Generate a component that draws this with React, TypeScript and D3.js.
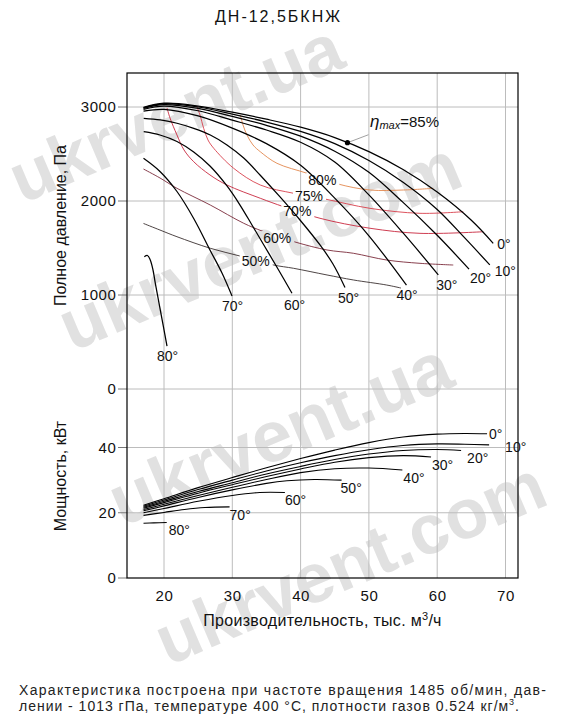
import React from 'react';
import * as d3 from 'd3';

// ---------------- data ----------------
const title = 'ДН-12,5БКНЖ';
const xTicks = [20, 30, 40, 50, 60, 70];
const pressureTicks = [0, 1000, 2000, 3000];
const powerTicks = [0, 20, 40];
const angleLabels = ['0°', '10°', '20°', '30°', '40°', '50°', '60°', '70°', '80°'];

// total pressure, Pa vs flow, thousand m3/h
const pressure0 = [[17.0, 2995], [20, 3040], [25, 3010], [30, 2945], [35, 2870], [40, 2785], [45, 2675], [50, 2525], [55, 2335], [60, 2095], [65, 1795], [68.2, 1550]];
const pressure10 = [[17.0, 2992], [20, 3035], [25, 3000], [30, 2925], [35, 2840], [40, 2740], [45, 2610], [50, 2430], [55, 2200], [60, 1910], [64, 1610], [67.7, 1320]];
const pressure20 = [[17.0, 2985], [20, 3025], [25, 2985], [30, 2900], [35, 2805], [40, 2690], [45, 2530], [50, 2305], [55, 1985], [60, 1635], [64.66, 1275]];
const pressure30 = [[17.0, 2975], [20, 3010], [25, 2960], [30, 2860], [35, 2755], [40, 2625], [45, 2415], [50, 2065], [55, 1660], [60.16, 1215]];
const pressure40 = [[17.0, 2955], [20, 2975], [25, 2905], [30, 2775], [35, 2610], [40, 2380], [45, 2030], [50, 1630], [55.5, 1105]];
const pressure50 = [[17.03, 2880], [19.46, 2862], [21.9, 2827], [24.35, 2773], [26.78, 2702], [29.22, 2596], [31.67, 2457], [34.06, 2277], [36.99, 2043], [39.91, 1798], [42.84, 1532], [44.74, 1330], [46.5, 1080]];
const pressure60 = [[17.03, 2737], [19.41, 2702], [21.9, 2633], [24.35, 2521], [26.73, 2372], [29.22, 2160], [31.13, 1957], [32.88, 1745], [34.79, 1511], [36.69, 1277], [38.74, 1018]];
const pressure70 = [[17.0, 2454], [19.41, 2314], [21.9, 2101], [24.39, 1809], [26.73, 1479], [28.49, 1234], [29.96, 989]];
const pressure80 = [[17.12, 1407], [17.58, 1420], [17.99, 1372], [18.39, 1266], [18.73, 1124], [19.46, 840], [20.44, 457]];

// shaft power, kW
const power0 = [[17.0, 22.3], [20, 24.3], [25, 27.7], [30, 30.8], [35, 33.8], [40, 36.6], [45, 39.2], [50, 41.5], [55, 43.2], [60, 44.1], [64, 44.3], [67.3, 44.2]];
const power10 = [[17.0, 22.0], [20, 23.9], [25, 27.1], [30, 30.0], [35, 32.8], [40, 35.3], [45, 37.5], [50, 39.3], [55, 40.6], [60, 41.1], [64, 41.0], [67.6, 40.8]];
const power20 = [[17.0, 21.7], [20, 23.5], [25, 26.5], [30, 29.2], [35, 31.9], [40, 34.2], [45, 36.3], [50, 38.0], [55, 39.1], [60, 39.4], [63.5, 39.1]];
const power30 = [[17.0, 21.4], [20, 23.1], [25, 26.0], [30, 28.6], [35, 31.1], [40, 33.4], [45, 35.5], [50, 36.9], [55, 37.5], [59.1, 37.1]];
const power40 = [[17.0, 21.0], [20, 22.6], [25, 25.3], [30, 27.8], [35, 30.2], [40, 32.3], [45, 33.5], [50, 33.7], [54.9, 33.1]];
const power50 = [[17.0, 20.6], [20, 22.1], [25, 24.7], [30, 27.0], [35, 29.0], [38, 29.8], [42, 30.2], [46.0, 30.0]];
const power60 = [[17.0, 20.0], [20, 21.3], [25, 23.5], [30, 25.3], [34, 26.2], [37.7, 26.2]];
const power70 = [[17.0, 19.2], [20, 20.1], [23, 21.0], [26, 21.6], [29.6, 21.8]];
const power80 = [[17.0, 16.8], [18.5, 16.9], [20.4, 17.0]];

// iso-efficiency curves
const eff80 = [[31.17, 2915], [31.57, 2809], [32.15, 2702], [33.03, 2596], [34.1, 2524], [36.54, 2401], [40.94, 2295], [45.48, 2181], [50.16, 2117], [55.04, 2117], [59.43, 2135]];
const eff75 = [[24.83, 3000], [25.27, 2915], [25.81, 2773], [26.44, 2649], [27.28, 2561], [30.2, 2348], [34.1, 2170], [38.99, 2082], [43.57, 2021], [50.16, 1922], [57.48, 1869], [63.82, 1886]];
const eff70 = [[20.44, 2990], [20.88, 2883], [21.9, 2702], [22.93, 2543], [24.35, 2418], [26.73, 2277], [29.22, 2170], [34.1, 2029], [37.52, 1939], [42.84, 1816], [50.16, 1710], [57.48, 1656], [66.75, 1673]];
const eff60 = [[17.0, 2340], [19.41, 2245], [21.9, 2135], [26.78, 1957], [31.67, 1763], [34.35, 1681], [39.18, 1564], [43.87, 1479], [47.72, 1444], [52.61, 1372], [57.48, 1337], [62.35, 1319]];
const eff50 = [[17.0, 1761], [19.41, 1691], [21.9, 1620], [26.78, 1497], [31.11, 1415], [36.05, 1319], [38.98, 1284], [43.87, 1213], [47.72, 1160], [52.61, 1106], [54.7, 1074]];
const effNames = ['80%', '75%', '70%', '60%', '50%'];
const effLabelAt = [[41.13, 2170], [39.18, 2000], [37.47, 1840], [34.54, 1553], [31.38, 1309]];

const etaMaxPoint = [46.86, 2620];
const etaMaxValue = '=85%';

const footer1 = 'Характеристика построена при частоте вращения 1485 об/мин, дав-';
const footer2a = 'лении - 1013 гПа, температуре 400 °С, плотности газов 0.524 кг/м';

const watermarkTexts = ['ukrvent.ua', 'ukrvent.com', 'ukrvent.ua', 'ukrvent.com'];

// ---------------- layout / style ----------------
const W = 561, H = 728;
const L = 127, R = 518, T = 73, B = 578;
const FONT = "Arial, 'Liberation Sans', sans-serif";
const watermarkPos = [[22, 204, 70], [72, 352, 72], [122, 527, 72], [168, 666, 70]];

const pressureSeries = [pressure0, pressure10, pressure20, pressure30, pressure40, pressure50, pressure60, pressure70, pressure80];
const powerSeries = [power0, power10, power20, power30, power40, power50, power60, power70, power80];
const effSeries = [eff80, eff75, eff70, eff60, eff50];
const effColors = ['#e2884e', '#d8404c', '#c8283e', '#7a2a3a', '#3a3030'];
const pressureLabelOffset = [[4, 6], [5, 11], [1, 14], [-2, 15], [-10, 15], [-7, 15.5], [-8, 17], [-10, 15], [-10, 15]];
const powerLabelOffset = [[2, 5], [16, 7], [6, 13], [1, 13], [1, 13], [-1, 13], [0, 12.5], [0, 13], [2, 12.5]];

export default function App() {
  const x = d3.scaleLinear().domain([20, 70]).range([164, 505.5]);
  const yP = d3.scaleLinear().domain([0, 3000]).range([389, 107]);
  const yN = d3.scaleLinear().domain([0, 40]).range([578, 447.5]);

  const lineP = d3.line<number[]>().x(d => x(d[0])).y(d => yP(d[1])).curve(d3.curveCatmullRom.alpha(0.5));
  const lineN = d3.line<number[]>().x(d => x(d[0])).y(d => yN(d[1])).curve(d3.curveCatmullRom.alpha(0.5));

  const effBoxes = effLabelAt.map(d => ({ x: x(d[0]), y: yP(d[1]) }));
  const dot = { x: x(etaMaxPoint[0]), y: yP(etaMaxPoint[1]) };

  return (
    <svg width={W} height={H} viewBox={`0 0 ${W} ${H}`}
      style={{ position: 'absolute', left: 0, top: 0, background: '#fff' }}
      fontFamily={FONT}>
      <defs>
        {effBoxes.map((b, i) => (
          <mask key={i} id={`effmask${i}`} maskUnits="userSpaceOnUse" x={0} y={0} width={W} height={H}>
            <rect x={0} y={0} width={W} height={H} fill="#fff" />
            <rect x={b.x - 2} y={b.y - 12} width={33} height={15} fill="#000" />
          </mask>
        ))}
      </defs>
      <rect x={0} y={0} width={W} height={H} fill="#fff" />

      {/* watermark */}
      <g fill="#e1e1e1" fontWeight="bold">
        {watermarkTexts.map((w, i) => (
          <text key={i} fontSize={watermarkPos[i][2]}
            transform={`translate(${watermarkPos[i][0]},${watermarkPos[i][1]}) rotate(-23)`}>{w}</text>
        ))}
      </g>

      {/* title */}
      <text x={215} y={22} fontSize={16} letterSpacing={2} fill="#111">{title}</text>

      {/* grid */}
      <g stroke="#bcbcbc" strokeWidth={1}>
        {xTicks.map(t => (
          <line key={`gx${t}`} x1={x(t)} x2={x(t)} y1={T} y2={B} />
        ))}
        {pressureTicks.map(t => (
          <line key={`gp${t}`} x1={L} x2={R} y1={yP(t)} y2={yP(t)} />
        ))}
        {powerTicks.filter(t => t > 0).map(t => (
          <line key={`gn${t}`} x1={L} x2={R} y1={yN(t)} y2={yN(t)} />
        ))}
      </g>

      {/* y ticks */}
      <g stroke="#777" strokeWidth={1}>
        {pressureTicks.map(t => (
          <line key={`tp${t}`} x1={118} x2={L} y1={yP(t)} y2={yP(t)} />
        ))}
        {powerTicks.map(t => (
          <line key={`tn${t}`} x1={118} x2={L} y1={yN(t)} y2={yN(t)} />
        ))}
      </g>
      <g fontSize={15} letterSpacing={0.6} fill="#111" textAnchor="end">
        {pressureTicks.map(t => (
          <text key={`lp${t}`} x={116.5} y={yP(t)} dy="0.36em">{t}</text>
        ))}
        {powerTicks.map(t => (
          <text key={`ln${t}`} x={116.5} y={yN(t)} dy="0.36em">{t}</text>
        ))}
      </g>
      <g fontSize={15} letterSpacing={0.6} fill="#111" textAnchor="middle">
        {xTicks.map(t => (
          <text key={`lx${t}`} x={x(t) + 0.5} y={601}>{t}</text>
        ))}
      </g>

      {/* frame */}
      <rect x={L} y={T} width={R - L} height={B - T} fill="none" stroke="#000" strokeWidth={1.2} />

      {/* axis titles */}
      <text transform="translate(66,225.5) rotate(-90)" textAnchor="middle" fontSize={16} fill="#111">Полное давление, Па</text>
      <text transform="translate(66,476) rotate(-90)" textAnchor="middle" fontSize={16} fill="#111">Мощность, кВт</text>
      <text x={322.5} y={626} textAnchor="middle" fontSize={16} letterSpacing={0.3} fill="#111">
        Производительность, тыс. м<tspan fontSize={11} dy={-6}>3</tspan><tspan dy={6}>/ч</tspan>
      </text>

      {/* iso-efficiency curves */}
      {effSeries.map((s, i) => (
        <path key={`e${i}`} d={lineP(s) || ''} fill="none" stroke={effColors[i]} strokeWidth={0.9}
          mask={`url(#effmask${i})`} />
      ))}
      <g fontSize={14} fill="#111">
        {effBoxes.map((b, i) => (
          <text key={`el${i}`} x={b.x} y={b.y}>{effNames[i]}</text>
        ))}
      </g>

      {/* pressure curves */}
      {pressureSeries.map((s, i) => (
        <path key={`p${i}`} d={lineP(s) || ''} fill="none" stroke="#000" strokeWidth={1.25} />
      ))}
      <g fontSize={14} fill="#111">
        {pressureSeries.map((s, i) => {
          const last = s[s.length - 1];
          return (
            <text key={`pl${i}`} x={x(last[0]) + pressureLabelOffset[i][0]} y={yP(last[1]) + pressureLabelOffset[i][1]}>
              {angleLabels[i]}
            </text>
          );
        })}
      </g>

      {/* eta max */}
      <line x1={dot.x} y1={dot.y} x2={dot.x + 21} y2={dot.y - 8} stroke="#888" strokeWidth={0.8} />
      <circle cx={dot.x} cy={dot.y} r={2.6} fill="#000" />
      <text x={370} y={127} fill="#111">
        <tspan fontStyle="italic" fontSize={17}>η</tspan>
        <tspan fontStyle="italic" fontSize={11} dy={2}>max</tspan>
        <tspan fontSize={15} dy={-2}>{etaMaxValue}</tspan>
      </text>

      {/* power curves */}
      {powerSeries.map((s, i) => (
        <path key={`n${i}`} d={lineN(s) || ''} fill="none" stroke="#000" strokeWidth={1.1} />
      ))}
      <g fontSize={14} fill="#111">
        {powerSeries.map((s, i) => {
          const last = s[s.length - 1];
          return (
            <text key={`nl${i}`} x={x(last[0]) + powerLabelOffset[i][0]} y={yN(last[1]) + powerLabelOffset[i][1]}>
              {angleLabels[i]}
            </text>
          );
        })}
      </g>

      {/* footer */}
      <text x={19} y={695} fontSize={14} fill="#222" textLength={527} lengthAdjust="spacing">{footer1}</text>
      <text x={19} y={711} fontSize={14} fill="#222" textLength={500} lengthAdjust="spacing">
        {footer2a}<tspan fontSize={9} dy={-6}>3</tspan><tspan dy={6}>.</tspan>
      </text>
    </svg>
  );
}
